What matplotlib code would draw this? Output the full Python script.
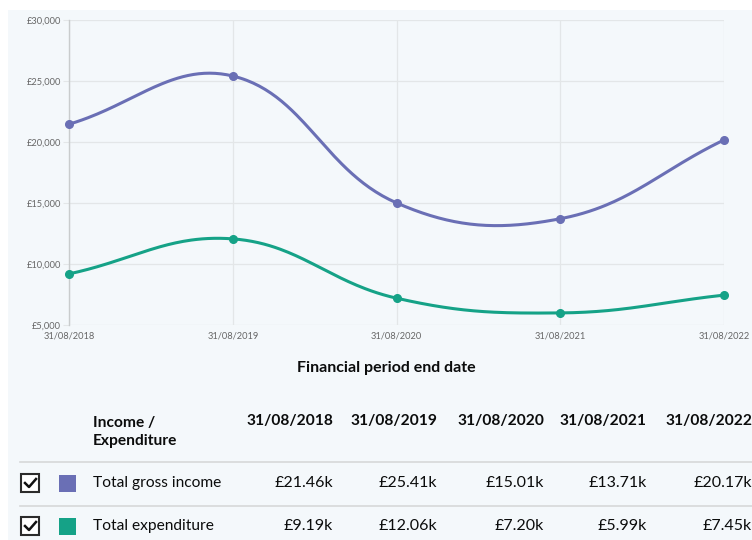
"""Income and expenditure chart with summary table."""
import matplotlib.pyplot as plt
import numpy as np
from matplotlib.patches import Rectangle
from matplotlib.lines import Line2D

DATES = ["31/08/2018", "31/08/2019", "31/08/2020", "31/08/2021", "31/08/2022"]
INCOME = [21460, 25410, 15010, 13710, 20170]
EXPENDITURE = [9190, 12060, 7200, 5990, 7450]
SERIES_NAMES = ["Total gross income", "Total expenditure"]
Y_TICKS = [5000, 10000, 15000, 20000, 25000, 30000]

COLORS = ["#6a6fb5", "#15a287"]
BG = "#f4f8fb"
W, H = 752, 540

plt.rcParams.update({"font.family": ["Lato", "DejaVu Sans"]})


def px(x, y):
    """pixel (top-left origin) -> figure fraction"""
    return x / W, 1 - y / H


def spline_path(ax, xs, ys, tension=0.4, n=60):
    # Chart.js style bezier smoothing, computed in display space
    pts = ax.transData.transform(np.column_stack([xs, ys]))
    out = []
    cps = []
    for i in range(len(pts)):
        prev = pts[max(i - 1, 0)]
        cur = pts[i]
        nxt = pts[min(i + 1, len(pts) - 1)]
        d01 = np.hypot(*(cur - prev))
        d12 = np.hypot(*(nxt - cur))
        tot = d01 + d12
        s01 = d01 / tot if tot else 0
        s12 = d12 / tot if tot else 0
        fa, fb = tension * s01, tension * s12
        cps.append((cur - fa * (nxt - prev), cur + fb * (nxt - prev)))
    t = np.linspace(0, 1, n)[:, None]
    for i in range(len(pts) - 1):
        p0, p3 = pts[i], pts[i + 1]
        p1, p2 = cps[i][1], cps[i + 1][0]
        seg = (1 - t) ** 3 * p0 + 3 * (1 - t) ** 2 * t * p1 + 3 * (1 - t) * t ** 2 * p2 + t ** 3 * p3
        out.append(seg if i == 0 else seg[1:])
    curve = ax.transData.inverted().transform(np.vstack(out))
    return curve[:, 0], curve[:, 1]


fig = plt.figure(figsize=(W / 100, H / 100), dpi=100, facecolor="white")
fig.patches.append(Rectangle(px(8, 540), (W - 8) / W, (540 - 10) / H,
                             transform=fig.transFigure, facecolor=BG, edgecolor="none", zorder=-5))

left, top = px(69, 20)
right, bottom = px(724, 325)
ax = fig.add_axes([left, bottom, right - left, top - bottom], zorder=2)
ax.set_facecolor(BG)
x = np.arange(len(DATES))
ax.set_xlim(0, len(DATES) - 1)
ax.set_ylim(Y_TICKS[0], Y_TICKS[-1])

for vals, color in zip([INCOME, EXPENDITURE], COLORS):
    cx, cy = spline_path(ax, x, vals)
    ax.plot(cx, cy, color=color, lw=2.2, solid_capstyle="round", zorder=3, clip_on=False)
    ax.plot(x, vals, "o", color=color, ms=5.5, zorder=4, clip_on=False)

ax.set_xticks(x, DATES)
ax.set_yticks(Y_TICKS, [f"£{v:,}" for v in Y_TICKS])
ax.grid(True, color="#e3e6e8", lw=0.9)
ax.set_axisbelow(True)
ax.tick_params(axis="both", length=4, color="#e3e6e8", labelsize=6.7, labelcolor="#666666", pad=2)
ax.tick_params(axis="x", length=0, pad=5)
for side in ["top", "right", "bottom"]:
    ax.spines[side].set_visible(False)
ax.spines["left"].set_color("#c9cccd")
ax.spines["left"].set_linewidth(1.0)

fig.text(*px(386, 368), "Financial period end date", ha="center", va="center",
         fontsize=11.5, fontweight="bold", color="#0b0c0c")

# table
fig.text(*px(93, 432), "Income /\nExpenditure", ha="left", va="center",
         fontsize=11.2, fontweight="bold", color="#0b0c0c", linespacing=1.45)
col_right = [333, 437, 544, 647, 752]
for cr, d in zip(col_right, DATES):
    fig.text(*px(cr, 421), d, ha="right", va="center", fontsize=11.2, fontweight="bold", color="#0b0c0c")

for yy in (462, 506):
    fig.add_artist(Line2D([20 / W, 1], [1 - yy / H] * 2, transform=fig.transFigure, color="#d6d8d9", lw=1.2))

row_y = [483, 526]
for ry, name, vals, color in zip(row_y, SERIES_NAMES, [INCOME, EXPENDITURE], COLORS):
    # checkbox
    fig.patches.append(Rectangle(px(21, ry + 9), 18 / W, 18 / H, transform=fig.transFigure,
                                 facecolor="white", edgecolor="#2b2b2b", lw=1.5))
    cx_, cy_ = zip(px(25, ry), px(29, ry + 4), px(36, ry - 4))
    fig.add_artist(Line2D(cx_, cy_, transform=fig.transFigure, color="#111111", lw=1.8))
    fig.patches.append(Rectangle(px(59, ry + 8.5), 17 / W, 17 / H, transform=fig.transFigure,
                                 facecolor=color, edgecolor="none"))
    fig.text(*px(93, ry), name, ha="left", va="center", fontsize=11.2, color="#0b0c0c")
    for cr, v in zip(col_right, vals):
        fig.text(*px(cr, ry), f"£{v / 1000:.2f}k", ha="right", va="center", fontsize=11.5, color="#0b0c0c")

fig.savefig("out.png", dpi=100, facecolor="white")
